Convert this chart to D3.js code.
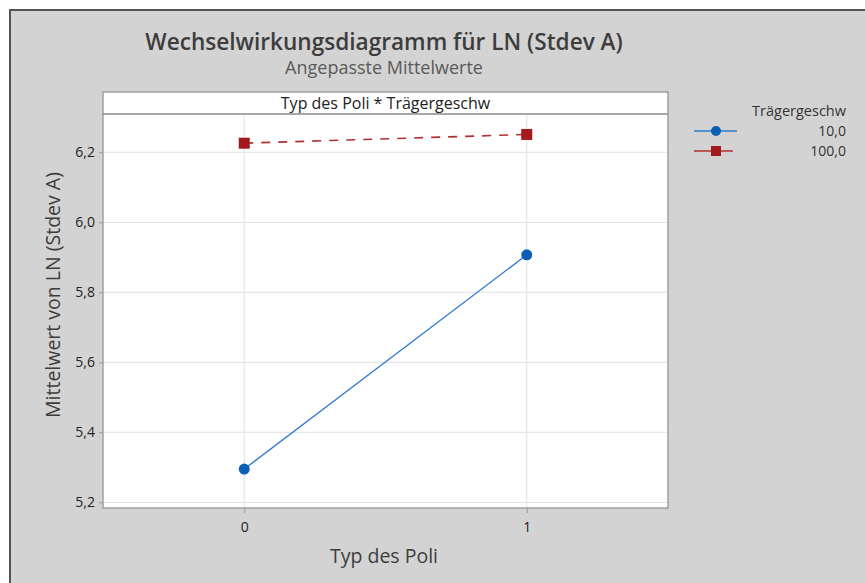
<!DOCTYPE html>
<html>
<head>
<meta charset="utf-8">
<style>
  body { margin: 0; background: #fff; }
  text { font-family: "Open Sans", "Noto Sans", sans-serif; }
</style>
</head>
<body>
<div id="chart"></div>
<script src="https://cdn.jsdelivr.net/npm/d3@7"></script>
<script>
// data
var xLevels = [0, 1];
var series = ["10,0", "100,0"];
var means10 = [5.295, 5.907];
var means100 = [6.226, 6.251];
var yTicks = [5.2, 5.4, 5.6, 5.8, 6.0, 6.2];

var width = 865, height = 583;
var svg = d3.select("#chart").append("svg")
    .attr("width", width).attr("height", height);

// frame
svg.append("rect").attr("x", 10).attr("y", 10).attr("width", 900).attr("height", 700)
    .attr("fill", "#d3d3d3").attr("stroke", "#555").attr("stroke-width", 2);

var plotLeft = 103, plotRight = 668, plotTop = 114, plotBottom = 508, headTop = 92;

var x = d3.scaleLinear().domain([-0.5, 1.5]).range([plotLeft, plotRight]);
var y = d3.scaleLinear().domain([5.2, 6.2]).range([502.3, 152.3]);

// plot box
svg.append("rect").attr("x", plotLeft).attr("y", headTop)
    .attr("width", plotRight - plotLeft).attr("height", plotBottom - headTop)
    .attr("fill", "#fff").attr("stroke", "#a0a0a0").attr("stroke-width", 1.5);
svg.append("line").attr("x1", plotLeft).attr("x2", plotRight).attr("y1", plotTop).attr("y2", plotTop)
    .attr("stroke", "#8a8a8a").attr("stroke-width", 1.5);
svg.append("text").attr("x", (plotLeft + plotRight) / 2).attr("y", 109).attr("text-anchor", "middle")
    .attr("font-size", 16).attr("fill", "#222").text("Typ des Poli * Trägergeschw");

// grid
svg.append("g").selectAll("line").data(yTicks).enter().append("line")
    .attr("x1", plotLeft + 1).attr("x2", plotRight - 1)
    .attr("y1", d => y(d)).attr("y2", d => y(d))
    .attr("stroke", "#e6e6e6").attr("stroke-width", 1.2);
svg.append("g").selectAll("line").data(xLevels).enter().append("line")
    .attr("x1", d => x(d)).attr("x2", d => x(d))
    .attr("y1", plotTop + 1).attr("y2", plotBottom - 1)
    .attr("stroke", "#e6e6e6").attr("stroke-width", 1.2);

// axes
var yAxis = d3.axisLeft(y).tickValues(yTicks).tickSize(4).tickPadding(4)
    .tickFormat(d => d3.format(".1f")(d).replace(".", ","));
var gy = svg.append("g").attr("transform", "translate(" + plotLeft + ",0)").call(yAxis);
gy.select(".domain").remove();
gy.selectAll(".tick line").attr("stroke", "#999");
gy.selectAll("text").attr("font-size", 14).attr("fill", "#222");

var xAxis = d3.axisBottom(x).tickValues(xLevels).tickSize(5).tickPadding(9).tickFormat(d3.format("d"));
var gx = svg.append("g").attr("transform", "translate(0," + plotBottom + ")").call(xAxis);
gx.select(".domain").remove();
gx.selectAll(".tick line").attr("stroke", "#999");
gx.selectAll("text").attr("font-size", 14).attr("fill", "#222");

// lines
var line = d3.line().x((d, i) => x(xLevels[i])).y(d => y(d));
svg.append("path").datum(means10).attr("d", line).attr("fill", "none")
    .attr("stroke", "#2c7ad0").attr("stroke-width", 1.3);
svg.append("path").datum(means100).attr("d", line).attr("fill", "none")
    .attr("stroke", "#b03030").attr("stroke-width", 1.6).attr("stroke-dasharray", "9,8");

svg.append("g").selectAll("circle").data(means10).enter().append("circle")
    .attr("cx", (d, i) => x(xLevels[i])).attr("cy", d => y(d)).attr("r", 5.5)
    .attr("fill", "#0a5fb4");
svg.append("g").selectAll("rect").data(means100).enter().append("rect")
    .attr("x", (d, i) => x(xLevels[i]) - 5.5).attr("y", d => y(d) - 5.5)
    .attr("width", 11).attr("height", 11).attr("fill", "#a3191c");

// titles
svg.append("text").attr("x", 384).attr("y", 50).attr("text-anchor", "middle")
    .attr("font-size", 22.6).attr("font-weight", 600).attr("fill", "#3d3d3d")
    .text("Wechselwirkungsdiagramm für LN (Stdev A)");
svg.append("text").attr("x", 384).attr("y", 74).attr("text-anchor", "middle")
    .attr("font-size", 18).attr("fill", "#5a5a5a").text("Angepasste Mittelwerte");
svg.append("text").attr("transform", "translate(60,295) rotate(-90)")
    .attr("text-anchor", "middle").attr("font-size", 19.5).attr("fill", "#3d3d3d")
    .text("Mittelwert von LN (Stdev A)");
svg.append("text").attr("x", 384).attr("y", 563).attr("text-anchor", "middle")
    .attr("font-size", 19.5).attr("fill", "#3d3d3d").text("Typ des Poli");

// legend
var lg = svg.append("g");
lg.append("text").attr("x", 846).attr("y", 116).attr("text-anchor", "end")
    .attr("font-size", 14.5).attr("fill", "#333").text("Trägergeschw");
var legY = [131, 151];
lg.selectAll("line").data(series).enter().append("line")
    .attr("x1", 694).attr("x2", (d, i) => i ? 733 : 737)
    .attr("y1", (d, i) => legY[i]).attr("y2", (d, i) => legY[i])
    .attr("stroke", (d, i) => i ? "#b03030" : "#2c7ad0").attr("stroke-width", 1.5);
lg.append("circle").attr("cx", 716).attr("cy", legY[0]).attr("r", 5).attr("fill", "#0a5fb4");
lg.append("rect").attr("x", 711).attr("y", legY[1] - 5).attr("width", 10).attr("height", 10).attr("fill", "#a3191c");
lg.selectAll("text.lab").data(series).enter().append("text").attr("class", "lab")
    .attr("x", 846).attr("y", (d, i) => legY[i] + 5).attr("text-anchor", "end")
    .attr("font-size", 14).attr("fill", "#333").text(d => d);
</script>
</body>
</html>
